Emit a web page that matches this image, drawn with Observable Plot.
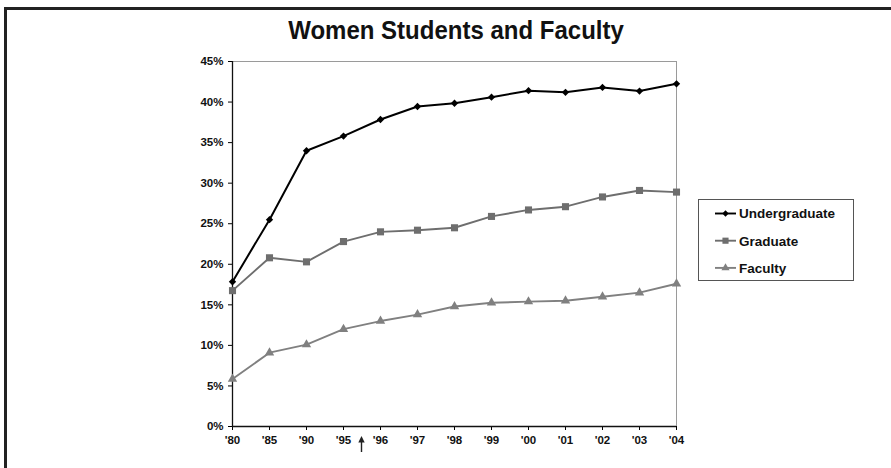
<!DOCTYPE html>
<html>
<head>
<meta charset="utf-8">
<script src="https://cdn.jsdelivr.net/npm/d3@7"></script>
<script src="https://cdn.jsdelivr.net/npm/@observablehq/plot@0.6"></script>
<style>
  html, body { margin: 0; padding: 0; background: #fff; }
  #wrap { position: relative; width: 891px; height: 468px; overflow: hidden; font-family: "Liberation Sans", Arial, sans-serif; }
  #frame { position: absolute; left: 4px; top: 7px; right: -10px; bottom: -10px; border-left: 3px solid #222; border-top: 3px solid #222; }
  #title { position: absolute; left: 0; top: 17px; width: 912px; text-align: center; font-weight: bold; font-size: 24px; line-height: 28px; color: #111; transform: scaleY(1.05); }
  #chart { position: absolute; left: 0; top: 0; }
  #legend { position: absolute; left: 698px; top: 199px; width: 156px; height: 82px; border: 1px solid #555; box-sizing: border-box; }
</style>
</head>
<body>
<div id="wrap">
  <div id="frame"></div>
  <div id="title">Women Students and Faculty</div>
  <div id="chart"></div>
  <div id="legend"></div>
</div>
<script>
const years = ["'80","'85","'90","'95","'96","'97","'98","'99","'00","'01","'02","'03","'04"];
const undergraduate = [17.85, 25.5, 34.0, 35.8, 37.85, 39.45, 39.85, 40.6, 41.4, 41.2, 41.8, 41.35, 42.25];
const graduate = [16.75, 20.8, 20.3, 22.8, 24.0, 24.2, 24.5, 25.9, 26.7, 27.1, 28.3, 29.1, 28.9];
const faculty = [5.85, 9.1, 10.1, 12.0, 13.0, 13.8, 14.8, 15.25, 15.4, 15.5, 16.0, 16.5, 17.6];
const yTicks = [0, 5, 10, 15, 20, 25, 30, 35, 40, 45];
const seriesNames = ["Undergraduate", "Graduate", "Faculty"];
const seriesColors = ["#000000", "#6e6e6e", "#808080"];
const seriesSymbols = ["diamond2", "square", "triangle"];
const seriesR = [3.3, 4.0, 3.5];

const seriesValues = [undergraduate, graduate, faculty];
const rows = seriesNames.flatMap((name, i) => years.map((yr, j) => ({series: name, year: yr, value: seriesValues[i][j]})));

const marks = [
  Plot.ruleY([45], {stroke: "#9a9a9a", strokeWidth: 1}),
  Plot.ruleX([years[years.length - 1]], {stroke: "#9a9a9a", strokeWidth: 1}),
  Plot.axisY({ticks: yTicks, tickFormat: d => d + "%", tickSize: 4, tickPadding: 5, fontSize: 11.5, fontWeight: "bold", fill: "#111", label: null}),
  Plot.axisX({tickSize: 4, tickPadding: 5, fontSize: 11.5, fontWeight: "bold", fill: "#111", label: null}),
  Plot.ruleX([years[0]], {stroke: "#111", strokeWidth: 1.3}),
  Plot.ruleY([0], {stroke: "#111", strokeWidth: 1.3})
];
seriesNames.forEach((name, i) => {
  const data = rows.filter(d => d.series === name);
  marks.push(Plot.line(data, {x: "year", y: "value", stroke: seriesColors[i], strokeWidth: i === 0 ? 2 : 1.9}));
});
seriesNames.forEach((name, i) => {
  const data = rows.filter(d => d.series === name);
  marks.push(Plot.dot(data, {x: "year", y: "value", symbol: () => seriesSymbols[i], fill: seriesColors[i], stroke: "none", r: seriesR[i]}));
});

const chart = Plot.plot({
  width: 891,
  height: 468,
  marginLeft: 232,
  marginRight: 215,
  marginTop: 61,
  marginBottom: 42,
  style: {background: "transparent", fontFamily: "Liberation Sans, Arial, sans-serif", overflow: "visible"},
  x: {type: "point", domain: years, padding: 0, label: null},
  y: {domain: [0, 45], label: null},
  symbol: {type: "identity"},
  marks
});
document.getElementById("chart").appendChild(chart);

// annotation arrow between '95 and '96 below the axis
const xs = chart.scale("x");
const ys = chart.scale("y");
const ax = (xs.apply("'95") + xs.apply("'96")) / 2;
const ay = ys.apply(0);
const svg = d3.select(chart);
svg.append("line").attr("x1", ax).attr("x2", ax).attr("y1", ay + 15).attr("y2", ay + 26)
  .attr("stroke", "#222").attr("stroke-width", 1.4);
svg.append("path").attr("d", `M${ax},${ay + 10} L${ax - 3.2},${ay + 16.5} L${ax + 3.2},${ay + 16.5} Z`).attr("fill", "#222");

// legend
const lsvg = d3.select("#legend").append("svg").attr("width", 154).attr("height", 80);
seriesNames.forEach((name, i) => {
  const y = 13.5 + i * 27.2;
  lsvg.append("line").attr("x1", 16).attr("x2", 37).attr("y1", y).attr("y2", y).attr("stroke", seriesColors[i]).attr("stroke-width", 1.9);
  const area = Math.PI * seriesR[i] * seriesR[i] * 0.75;
  const sym = {diamond2: d3.symbolDiamond2, square: d3.symbolSquare, triangle: d3.symbolTriangle}[seriesSymbols[i]];
  lsvg.append("path").attr("d", d3.symbol(sym, area)()).attr("transform", `translate(26.5,${y})`).attr("fill", seriesColors[i]);
  lsvg.append("text").attr("x", 40).attr("y", y).attr("dy", "0.36em")
    .attr("font-family", "Liberation Sans, Arial, sans-serif").attr("font-weight", "bold").attr("font-size", 13.5).attr("fill", "#111").text(name);
});
</script>
</body>
</html>
